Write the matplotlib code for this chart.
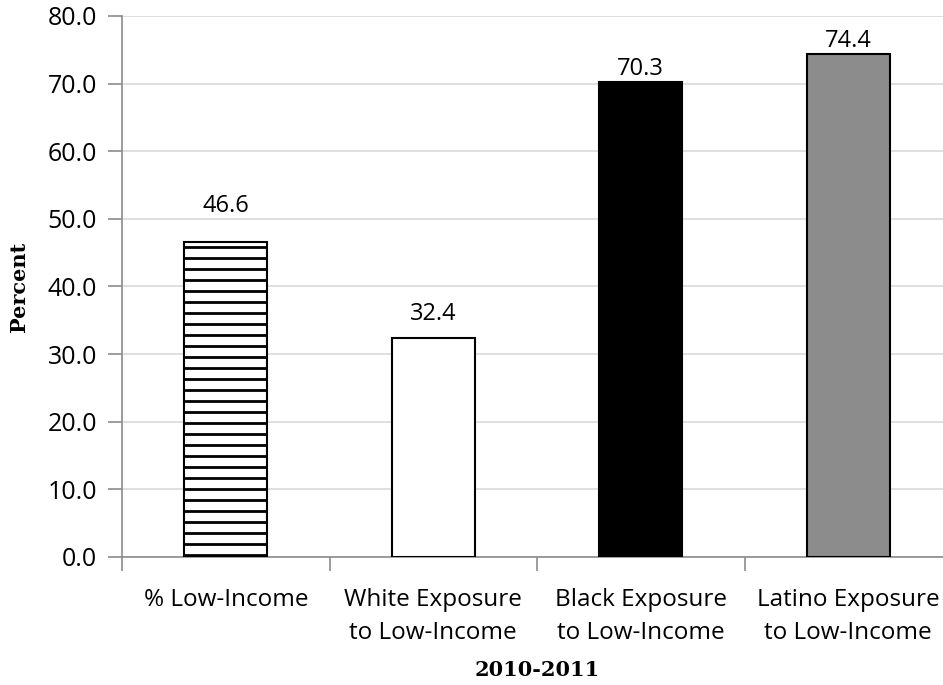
import matplotlib
matplotlib.use("Agg")
import matplotlib.pyplot as plt

# Data
categories = ["% Low-Income", "White Exposure\nto Low-Income",
              "Black Exposure\nto Low-Income", "Latino Exposure\nto Low-Income"]
values = [46.6, 32.4, 70.3, 74.4]
colors = ["white", "white", "black", "#8c8c8c"]
hatches = ["-", "", "", ""]
y_ticks = [0, 10, 20, 30, 40, 50, 60, 70, 80]

# lower dpi so the hatch stripes come out ~11px apart; S rescales point sizes
DPI = 66
S = 100 / DPI

plt.rcParams['hatch.linewidth'] = 2.0 * S
plt.rcParams['font.family'] = ['Open Sans', 'DejaVu Sans']

fig = plt.figure(figsize=(943 / DPI, 685 / DPI), dpi=DPI)
ax = fig.add_axes([0.1294, 0.1869, 0.8802, 0.7898])

x = list(range(len(categories)))
bars = ax.bar(x, values, width=0.4, color=colors, edgecolor="black",
              linewidth=1.5 * S, zorder=3)
for b, h in zip(bars, hatches):
    if h:
        b.set_hatch(h)

# value labels (Excel placed them at slightly different gaps)
label_gaps = [26, 17, 9, 9]
for xi, v, g in zip(x, values, label_gaps):
    ax.annotate(f"{v:.1f}", (xi, v), xytext=(0, g * S), textcoords="offset points",
                ha="center", va="center", fontsize=17 * S)

ax.set_xlim(-0.5, 3.5)
ax.set_ylim(0, 80)
ax.set_yticks(y_ticks)
ax.set_yticklabels([f"{t:.1f}" for t in y_ticks], fontsize=18 * S)
ax.yaxis.grid(True, color="#d9d9d9", linewidth=1.2 * S, zorder=0)
ax.set_axisbelow(True)

ax.set_xticks(x)
ax.set_xticklabels(categories, fontsize=17.5 * S, linespacing=1.5)
ax.set_xticks([-0.5, 0.5, 1.5, 2.5], minor=True)
ax.tick_params(axis="x", which="major", length=0, pad=22 * S)
ax.tick_params(axis="x", which="minor", length=10 * S, color="#8c8c8c", width=1.2 * S)
ax.tick_params(axis="y", length=10 * S, color="#8c8c8c", width=1.2 * S, pad=8 * S)

for s in ["top", "right"]:
    ax.spines[s].set_visible(False)
for s in ["left", "bottom"]:
    ax.spines[s].set_color("#8c8c8c")
    ax.spines[s].set_linewidth(1.2 * S)

ax.set_ylabel("Percent", family="DejaVu Serif", fontweight="bold", fontsize=15 * S)
ax.yaxis.set_label_coords(-0.112, 0.5)
ax.set_xlabel("2010-2011", family="DejaVu Serif", fontweight="bold", fontsize=15 * S)
ax.xaxis.set_label_coords(0.5, -0.19)

fig.savefig("out.png", dpi=DPI)
